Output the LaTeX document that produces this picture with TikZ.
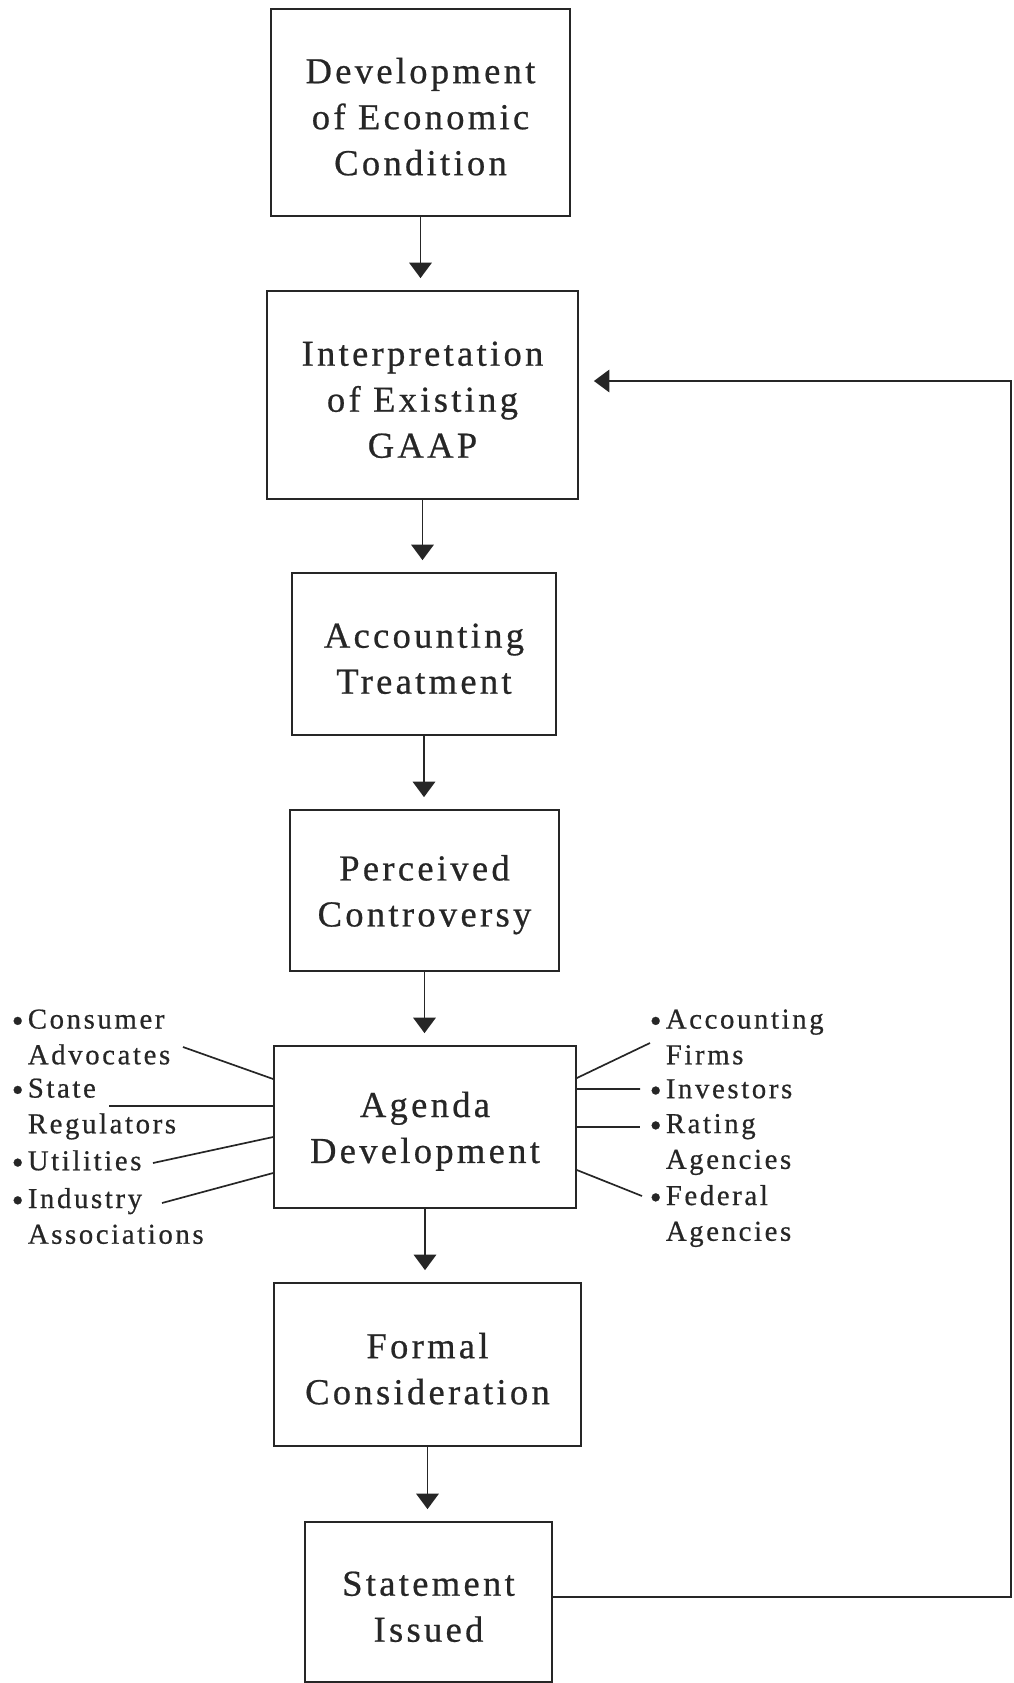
\documentclass[tikz,border=0pt]{standalone}
\usepackage{fontspec}
\setmainfont{Liberation Serif}[LetterSpace=9,FakeBold=0.6]
\usepackage{tikz}
\usetikzlibrary{arrows.meta}
\tikzset{>={Triangle[width=16pt,length=11pt]}}
\newcommand{\bul}{\llap{\raisebox{-2.5pt}{\fontsize{24}{24}\selectfont\textbullet}\hspace{3pt}}}
\newcommand{\topstrut}{\rule{0pt}{24pt}}

\begin{document}
\begin{tikzpicture}[x=0.025cm,y=-0.025cm,line width=1.2pt,color=black!85,
    box/.style={draw,align=center,inner sep=0,font=\fontsize{26}{32.7}\selectfont},
    side/.style={align=left,inner sep=0,anchor=west,font=\fontsize{20.5}{25.4}\selectfont}]
  \useasboundingbox (0,0) rectangle (1013,1683);

  % the chain of steps
  \node[box,minimum width=7.475cm,minimum height=5.175cm](dev) at (420.5,112.5) {\topstrut Development\\of Economic\\Condition};
  \node[box,minimum width=7.775cm,minimum height=5.2cm](interp) at (422.5,395) {\topstrut Interpretation\\of Existing\\GAAP};
  \node[box,minimum width=6.6cm,minimum height=4.05cm](acct) at (424,654) {\topstrut Accounting\\Treatment};
  \node[box,minimum width=6.725cm,minimum height=4.025cm](perc) at (424.5,890.5) {\topstrut Perceived\\Controversy};
  \node[box,minimum width=7.55cm,minimum height=4.05cm](agenda) at (425,1127) {\topstrut Agenda\\Development};
  \node[box,minimum width=7.675cm,minimum height=4.075cm](formal) at (427.5,1364.5) {\topstrut Formal\\Consideration};
  \node[box,minimum width=6.175cm,minimum height=4.0cm](statement) at (428.5,1602) {\topstrut Statement\\Issued};

  \foreach \a/\b in {dev/interp, interp/acct, acct/perc, perc/agenda, agenda/formal, formal/statement} {
    \draw[->,shorten >=0.3cm] (\a.south) -- (\a.south |- \b.north);
  }

  % feedback loop
  \coordinate (loop) at (1011,381);
  \draw[->,shorten >=0.375cm] ([yshift=0.125cm]statement.east) -| (loop) -- (loop -| interp.east);

  % parties around the agenda
  \node[side](consumer) at (27,1037) {\bul Consumer\\Advocates};
  \node[side](state) at (27,1109) {\bul State\\Regulators};
  \node[side](utilities) at (27,1162) {\bul Utilities};
  \node[side](industry) at (27,1216) {\bul Industry\\Associations};
  \node[side](firms) at (665,1037) {\bul Accounting\\Firms};
  \node[side](investors) at (665,1090.5) {\bul Investors};
  \node[side](rating) at (665,1144.5) {\bul Rating\\Agencies};
  \node[side](federal) at (665,1216) {\bul Federal\\Agencies};

  \coordinate (consumer-in) at (183,1047);
  \coordinate (state-in) at (109,1106);
  \coordinate (utilities-in) at (153,1163);
  \coordinate (industry-in) at (162,1203);
  \coordinate (firms-in) at (650,1043);
  \coordinate (investors-in) at (640,1089);
  \coordinate (rating-in) at (640,1127);
  \coordinate (federal-in) at (642,1196);

  \foreach \n/\s in {consumer/1.2, state/0.525, utilities/-0.25, industry/-1.15} {
    \draw ([yshift=\s cm]agenda.west) -- (\n-in);
  }
  \foreach \n/\s in {firms/1.225, investors/0.95, rating/0, federal/-1.075} {
    \draw ([yshift=\s cm]agenda.east) -- (\n-in);
  }
\end{tikzpicture}
\end{document}
